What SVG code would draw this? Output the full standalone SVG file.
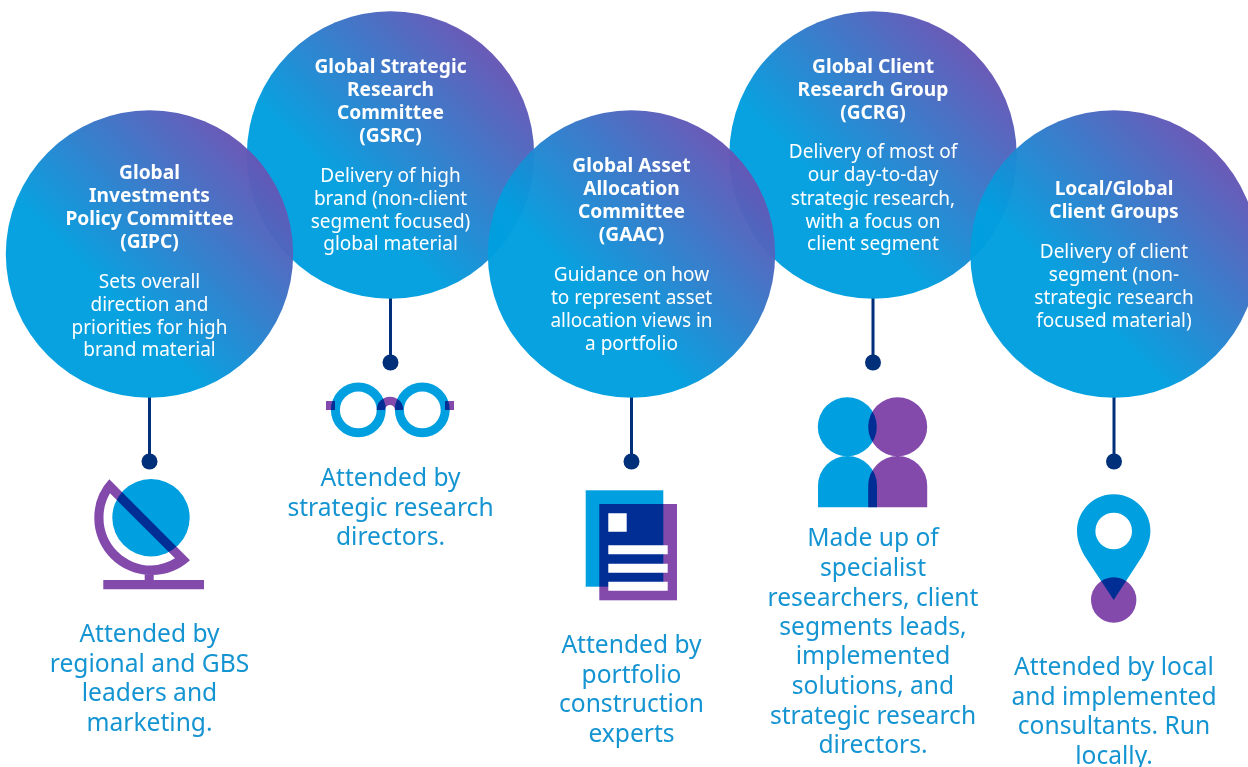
<svg xmlns="http://www.w3.org/2000/svg" width="1248" height="767" viewBox="0 0 1248 767">
<style>
text{font-family:"Noto Sans","Open Sans",sans-serif;text-anchor:middle}
.t{font-size:19.2px;font-weight:700;fill:#fff}
.b{font-size:19px;fill:#fff}
.a{font-size:24.6px;fill:#1594d2}
.c{fill:url(#g);opacity:.97}
.blue{fill:#009fdf}
.pur{fill:#8349ab;mix-blend-mode:multiply}
.wh{fill:#fff}
.ln{stroke:#00307a;stroke-width:3;fill:none}
.dot{fill:#00307a}
</style>
<defs>
<linearGradient id="g" x1="0.146" y1="0.854" x2="0.854" y2="0.146">
<stop offset="0.3" stop-color="#009fdf"/>
<stop offset="1" stop-color="#6655b5"/>
</linearGradient>
</defs>
<rect width="1248" height="767" fill="#fff"/>
<g id="connectors">
<path class="ln" d="M149.500 396V461M390.500 297V362M631.500 396V461M873 297V362M1114 396V461"/>
<circle class="dot" cx="149.500" cy="461.500" r="8"/>
<circle class="dot" cx="390.500" cy="362.500" r="8"/>
<circle class="dot" cx="631.500" cy="461.500" r="8"/>
<circle class="dot" cx="873" cy="362.500" r="8"/>
<circle class="dot" cx="1114" cy="461.500" r="8"/>
</g>
<g id="gsrc">
<circle class="c" cx="390.500" cy="155" r="143.700"/>
<text class="t" x="390.500"><tspan x="390.500" y="72.500">Global Strategic</tspan><tspan x="390.500" y="95.500">Research</tspan><tspan x="390.500" y="118.500">Committee</tspan><tspan x="390.500" y="141.500">(GSRC)</tspan></text>
<text class="b"><tspan x="390.500" y="181.500">Delivery of high</tspan><tspan x="390.500" y="204.500">brand (non-client</tspan><tspan x="390.500" y="227.500">segment focused)</tspan><tspan x="390.500" y="250">global material</tspan></text>
<path class="blue" d="M358.300 382.500a27.400 27.400 0 1 0 0 54.800a27.400 27.400 0 1 0 0-54.800zm0 9a18.400 18.400 0 1 1 0 36.800a18.400 18.400 0 1 1 0-36.800zM422.300 382.500a27.400 27.400 0 1 0 0 54.800a27.400 27.400 0 1 0 0-54.800zm0 9a18.400 18.400 0 1 1 0 36.800a18.400 18.400 0 1 1 0-36.800z"/>
<path class="pur" d="M376.700 410a13.300 13.300 0 0 1 26.600 0H395a5 5 0 0 0-10 0zM326 401h9v9h-9zM445 401h9v9h-9z"/>
<text class="a"><tspan x="390.500" y="486">Attended by</tspan><tspan x="390.500" y="515.500">strategic research</tspan><tspan x="390.500" y="545">directors.</tspan></text>
</g>
<g id="gcrg">
<circle class="c" cx="873" cy="155" r="143.700"/>
<text class="t"><tspan x="873" y="72.500">Global Client</tspan><tspan x="873" y="95.500">Research Group</tspan><tspan x="873" y="118.500">(GCRG)</tspan></text>
<text class="b"><tspan x="873" y="157.500">Delivery of most of</tspan><tspan x="873" y="180.500">our day-to-day</tspan><tspan x="873" y="204.500">strategic research,</tspan><tspan x="873" y="227.500">with a focus on</tspan><tspan x="873" y="250">client segment</tspan></text>
<g>
<circle class="blue" cx="847.300" cy="426.700" r="29.500"/>
<path class="blue" d="M818 507.300V485.500a29.500 29.500 0 0 1 59 0V507.300z"/>
<circle class="pur" cx="897.700" cy="426.700" r="29.500"/>
<path class="pur" d="M868.200 507.300V485.500a29.500 29.500 0 0 1 59 0V507.300z"/>
</g>
<text class="a"><tspan x="873" y="546">Made up of</tspan><tspan x="873" y="575.500">specialist</tspan><tspan x="873" y="605.500">researchers, client</tspan><tspan x="873" y="634.500">segments leads,</tspan><tspan x="873" y="664">implemented</tspan><tspan x="873" y="693.500">solutions, and</tspan><tspan x="873" y="723.500">strategic research</tspan><tspan x="873" y="752.500">directors.</tspan></text>
</g>
<g id="gipc">
<circle class="c" cx="149.500" cy="254" r="143.700"/>
<text class="t"><tspan x="149.500" y="178.500">Global</tspan><tspan x="149.500" y="201.500">Investments</tspan><tspan x="149.500" y="224.500">Policy Committee</tspan><tspan x="149.500" y="247.500">(GIPC)</tspan></text>
<text class="b"><tspan x="149.500" y="287.500">Sets overall</tspan><tspan x="149.500" y="310.500">direction and</tspan><tspan x="149.500" y="333.500">priorities for high</tspan><tspan x="149.500" y="355.500">brand material</tspan></text>
<circle class="blue" cx="151" cy="517.700" r="38.700"/>
<g class="pur">
<path fill-rule="evenodd" d="M109.300 479.300L190 560.300A57 57 0 0 1 151 575A57 57 0 0 1 94.300 518A57 57 0 0 1 109.300 479.300zM110 493.300L175 558.300A47.500 47.500 0 0 1 151 565.500A47.500 47.500 0 0 1 103.500 518A47.500 47.500 0 0 1 110 493.300z"/>
<path d="M103.300 580H144.700V574.500H153.700V580H204V589.300H103.300z"/>
</g>
<text class="a"><tspan x="149.500" y="642">Attended by</tspan><tspan x="149.500" y="671.500">regional and GBS</tspan><tspan x="149.500" y="701">leaders and</tspan><tspan x="149.500" y="730.500">marketing.</tspan></text>
</g>
<g id="gaac">
<circle class="c" cx="631.500" cy="254" r="143.700"/>
<text class="t"><tspan x="631.500" y="171.500">Global Asset</tspan><tspan x="631.500" y="194.500">Allocation</tspan><tspan x="631.500" y="217.500">Committee</tspan><tspan x="631.500" y="240.500">(GAAC)</tspan></text>
<text class="b"><tspan x="631.500" y="280.500">Guidance on how</tspan><tspan x="631.500" y="303.500">to represent asset</tspan><tspan x="631.500" y="326.500">allocation views in</tspan><tspan x="631.500" y="349.500">a portfolio</tspan></text>
<rect class="blue" x="585.700" y="490.300" width="77.600" height="96.400"/>
<rect class="pur" x="599.300" y="504" width="77.700" height="96.300"/>
<path class="wh" d="M608.300 513.300h18.400v18.400h-18.400zM608.300 545.300h59.400v9h-59.400zM608.300 563.700h59.400v9h-59.400zM608.300 581.700h59.400v9h-59.400z"/>
<text class="a"><tspan x="631.500" y="653">Attended by</tspan><tspan x="631.500" y="682.500">portfolio</tspan><tspan x="631.500" y="712">construction</tspan><tspan x="631.500" y="741.500">experts</tspan></text>
</g>
<g id="local">
<circle class="c" cx="1114" cy="254" r="143.700"/>
<text class="t"><tspan x="1114" y="194.500">Local/Global</tspan><tspan x="1114" y="217.500">Client Groups</tspan></text>
<text class="b"><tspan x="1114" y="257.500">Delivery of client</tspan><tspan x="1114" y="280.500">segment (non-</tspan><tspan x="1114" y="303.500">strategic research</tspan><tspan x="1114" y="326.500">focused material)</tspan></text>
<path class="blue" fill-rule="evenodd" d="M1113.700 494.300C1093.400 494.300 1077 510.700 1077 531C1077 540 1080 547 1084 555L1113.700 600L1143 555C1147 547 1150.400 540 1150.400 531C1150.400 510.700 1134 494.300 1113.700 494.300zM1113.700 512.700a18.300 18.300 0 1 1 0 36.600a18.300 18.300 0 1 1 0-36.600z"/>
<circle class="pur" cx="1113.700" cy="600" r="22.700"/>
<text class="a"><tspan x="1114" y="675">Attended by local</tspan><tspan x="1114" y="704.500">and implemented</tspan><tspan x="1114" y="734">consultants. Run</tspan><tspan x="1114" y="763.500">locally.</tspan></text>
</g>
</svg>
